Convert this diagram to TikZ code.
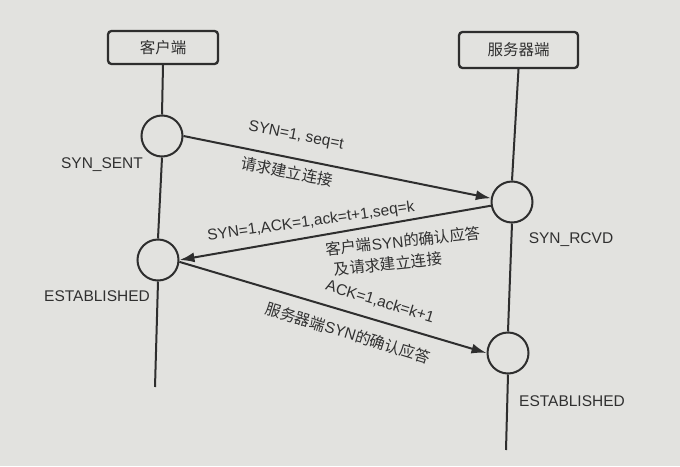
\documentclass[tikz,border=0pt]{standalone}
\usepackage{fontspec}
\setmainfont{Liberation Sans}
\newfontfamily\cjk{Noto Sans CJK SC}
\usetikzlibrary{arrows.meta}
\definecolor{paper}{HTML}{E2E2DF}
\definecolor{ink}{HTML}{2E2E2E}
\definecolor{txt}{HTML}{303030}
\tikzset{
  hostbox/.style={draw=ink, line width=2.3pt, rounded corners=3.5pt, inner sep=0pt, font=\cjk\fontsize{15.5}{18}\selectfont, text=txt},
  statecircle/.style={circle, draw=ink, line width=2pt, minimum size=41pt, inner sep=0pt},
  lifeline/.style={draw=ink, line width=2pt},
  msg/.style={draw=ink, line width=2pt, -{Latex[length=15pt,width=10pt]}},
  lbl/.style={text=txt, inner sep=0pt, font=\fontsize{15.5}{18}\selectfont},
}
\newcommand{\zh}[1]{{\cjk #1}}
\begin{document}
\begin{tikzpicture}[x=1pt,y=-1pt]
\fill[paper] (0,0) rectangle (680,466);
\useasboundingbox (0,0) rectangle (680,466);

% hosts
\node[hostbox, minimum width=110pt, minimum height=33pt] (client) at (163,47.5) {客户端};
\node[hostbox, minimum width=119pt, minimum height=36pt] (server) at (518.5,50) {服务器端};

% state circles
\node[statecircle] (c1) at (162,136) {};
\node[statecircle] (c2) at (158,260) {};
\node[statecircle] (s1) at (512,202) {};
\node[statecircle] (s2) at (508,353) {};

\coordinate (cend) at (155,387);
\coordinate (send) at (506,450);

% lifelines
\draw[lifeline] (client.south) -- (c1.north);
\draw[lifeline] (c1.south) -- (c2.north);
\draw[lifeline] (c2.south) -- (cend);
\draw[lifeline] (server.south) -- (s1.north);
\draw[lifeline] (s1.south) -- (s2.north);
\draw[lifeline] (s2.south) -- (send);

% messages
\draw[msg] (c1.east) -- (s1.170);
\draw[msg] (s1.190) -- (c2.east);
\draw[msg] (c2.-5) -- (s2.west);

% state labels
\node[lbl] (l1) at (102,165) {SYN\_SENT};
\node[lbl] (l2) at (571,240) {SYN\_RCVD};
\node[lbl] (l3) at (97,296) {ESTABLISHED};
\node[lbl] (l4) at (572,401) {ESTABLISHED};

% message labels
\node[lbl, rotate=-11] (m1a) at (296,136) {SYN=1, seq=t};
\node[lbl, rotate=-11] (m1b) at (287,172) {\zh{请求建立连接}};
\node[lbl, rotate=8] (m2a) at (311,222) {SYN=1,ACK=1,ack=t+1,seq=k};
\node[lbl, rotate=6] (m2b) at (403,241) {\zh{客户端}SYN\zh{的确认应答}};
\node[lbl, rotate=6] (m2c) at (388,264) {\zh{及请求建立连接}};
\node[lbl, rotate=-17] (m3a) at (380,302) {ACK=1,ack=k+1};
\node[lbl, rotate=-17] (m3b) at (348,333) {\zh{服务器端}SYN\zh{的确认应答}};
\end{tikzpicture}
\end{document}
